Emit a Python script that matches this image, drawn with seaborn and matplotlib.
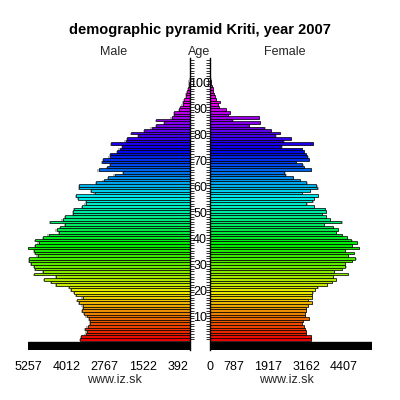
import colorsys
import numpy as np
import pandas as pd
import matplotlib
matplotlib.use("Agg")
import matplotlib.pyplot as plt
import matplotlib.transforms as mtransforms
import seaborn as sns

ages = list(range(101))
male = [3563, 3531, 3390, 3358, 3407, 3325, 3244, 3237, 3276, 3358,
        3433, 3505, 3465, 3488, 3586, 3651, 3488, 3684, 3749, 3847,
        3912, 4336, 4499, 4727, 4336, 5053, 4760, 5020, 5053, 5161,
        5216, 5239, 4945, 5020, 5053, 5249, 5020, 4913, 5020, 4760,
        4587, 4238, 4326, 4205, 4042, 4548, 4130, 4042, 3804, 3804,
        3765, 3505, 3390, 3368, 3619, 3684, 3097, 3205, 3586, 3609,
        3042, 2804, 2663, 2445, 2174, 2967, 2696, 2585, 2846, 2826,
        2608, 2585, 2370, 2282, 2194, 2553, 2086, 2044, 1685, 1901,
        1500, 1249, 1108, 848, 1108, 597, 522, 522, 349, 326,
        238, 218, 196, 130, 130, 88, 55, 33, 23, 13, 7]
female = [3325, 3309, 3162, 3152, 3130, 3081, 3032, 3048, 3244, 3130,
          3130, 3146, 3162, 3227, 3358, 3211, 3342, 3348, 3368, 3456,
          3531, 3857, 4020, 4130, 4042, 4541, 4075, 4346, 4456, 4434,
          4672, 4782, 4541, 4727, 4434, 4890, 4672, 4835, 4652, 4499,
          4346, 4150, 4215, 4052, 3749, 4326, 3935, 3824, 3674, 3804,
          3772, 3423, 3172, 3368, 3423, 3553, 3022, 3283, 3531, 3498,
          3172, 2957, 2716, 2478, 2445, 3315, 3087, 3042, 2826, 3260,
          3205, 3152, 3081, 3032, 2347, 3374, 2412, 2663, 2152, 2305,
          2011, 1793, 1281, 1630, 740, 1607, 597, 652, 522, 303,
          271, 326, 196, 163, 130, 108, 88, 55, 33, 23, 10]
left_ticks = [5257, 4012, 2767, 1522, 392]
right_ticks = [0, 787, 1917, 3162, 4407]
age_labels = [10, 20, 30, 40, 50, 60, 70, 80, 90, 100]

sns.set_theme(style="white")
plt.rcParams['font.family'] = ['Liberation Sans', 'DejaVu Sans']


def age_color(a):
    h = min(a * 3.3, 300) / 360.0
    return colorsys.hsv_to_rgb(h, 1.0, 0.92)


palette = {str(a): age_color(a) for a in ages}
df = pd.DataFrame({'age': ages, 'male': male, 'female': female,
                   'grp': [str(a) for a in ages]})
df['age_sh'] = df['age'] - 0.3
df['male_sh'] = df['male'] + 40
df['female_sh'] = df['female'] + 40

W = H = 400.0
fig = plt.figure(figsize=(4, 4), dpi=100)


def fy(py):
    return 1 - py / H


ax_l = fig.add_axes([28 / W, fy(350), 162 / W, (350 - 58) / H])
ax_r = fig.add_axes([210 / W, fy(350), 162 / W, (350 - 58) / H])

for ax, col in ((ax_l, 'male'), (ax_r, 'female')):
    sns.barplot(data=df, x=col + '_sh', y='age_sh', orient='h', native_scale=True,
                width=1, color='#b4b4b4', saturation=1, linewidth=0, ax=ax,
                errorbar=None)
    sns.barplot(data=df, x=col, y='age', hue='grp', palette=palette, orient='h',
                native_scale=True, width=1, dodge=False, edgecolor='black',
                linewidth=0.5, legend=False, ax=ax, saturation=1, errorbar=None)
    ax.set_ylim(-4.1, 107.8)
    ax.axhspan(-4.1, -0.92, color='black', zorder=5)
    ax.set_xlabel('')
    ax.set_ylabel('')
    ax.set_yticks(np.arange(0, 108))
    ax.set_yticklabels([])
    ax.tick_params(axis='y', length=2.6, width=0.7, direction='out', color='#333333')
    ax.tick_params(axis='x', length=0, pad=8, labelsize=9, colors='black')
    for s in ('top', 'bottom'):
        ax.spines[s].set_visible(False)

ax_l.set_xlim(5257, 0)
ax_r.set_xlim(0, 5330)
ax_l.spines['left'].set_visible(False)
ax_r.spines['right'].set_visible(False)
ax_l.spines['right'].set_color('black')
ax_r.spines['left'].set_color('black')
ax_l.spines['right'].set_linewidth(1)
ax_r.spines['left'].set_linewidth(1)
ax_l.yaxis.tick_right()
ax_r.yaxis.tick_left()
ax_l.set_xticks(left_ticks, [str(t) for t in left_ticks])
ax_r.set_xticks(right_ticks, [str(t) for t in right_ticks])

tr = mtransforms.blended_transform_factory(fig.transFigure, ax_l.transData)
for a in age_labels:
    fig.text(200 / W, a - 2.0, str(a), transform=tr, ha='center', va='center',
             fontsize=9, color='black')

fig.text(200 / W, fy(30), 'demographic pyramid Kriti, year 2007', ha='center',
         va='center', fontsize=10.5, fontweight='bold', color='black')
fig.text(114 / W, fy(52), 'Male', ha='center', va='center', fontsize=9)
fig.text(285 / W, fy(52), 'Female', ha='center', va='center', fontsize=9)
fig.text(199 / W, fy(52), 'Age', ha='center', va='center', fontsize=9)
fig.text(114 / W, fy(380), 'www.iz.sk', ha='center', va='center', fontsize=9)
fig.text(286 / W, fy(380), 'www.iz.sk', ha='center', va='center', fontsize=9)

fig.savefig('out.png', dpi=100, facecolor='white')
